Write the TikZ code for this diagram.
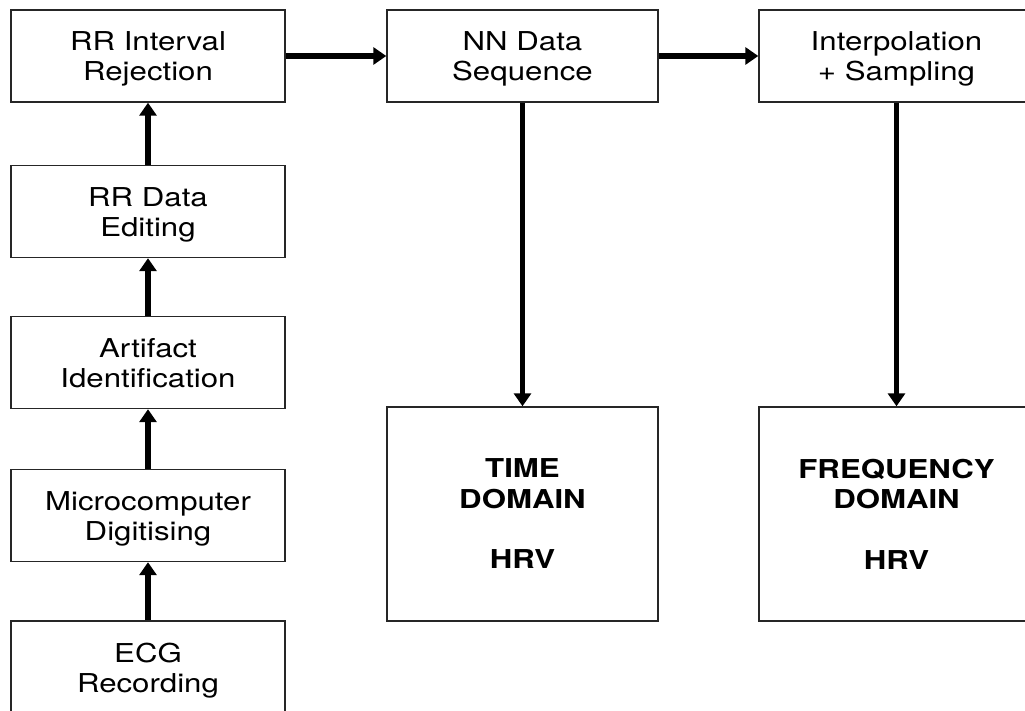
\documentclass[tikz,border=0pt]{standalone}
\usepackage{fontspec}
\setmainfont{TeX Gyre Heros}[FakeStretch=1.2]
\usetikzlibrary{arrows.meta}
\begin{document}
\begin{tikzpicture}[x=1pt,y=-1pt,
  basebox/.style={draw=black!85,line width=1.4pt,minimum width=274pt,
    align=center,inner sep=0pt},
  box/.style={basebox,minimum height=92pt,text height=50pt,text depth=0pt,font=\fontsize{26}{30}\selectfont},
  bigbox/.style={basebox,minimum height=214pt,font=\fontsize{26}{30.5}\selectfont\bfseries},
  flow/.style={line width=5.5pt,-{Triangle[length=13pt,width=17pt]}}]
\useasboundingbox (0,0) rectangle (1025,711);
\node[box] (rej) at (148,56) {RR Interval\\Rejection};
\node[box] (edit) at (148,211.5) {RR Data\\Editing};
\node[box] (art) at (148,362.5) {Artifact\\Identification};
\node[box] (dig) at (148,515.5) {Microcomputer\\Digitising};
\node[box] (ecg) at (148,667) {ECG\\Recording};
\node[box,minimum width=271pt] (nn) at (522.5,56) {NN Data\\Sequence};
\node[box,minimum width=275pt] (interp) at (896.5,56) {Interpolation\\+ Sampling};
\node[bigbox,minimum width=271pt] (time) at (522.5,514) {TIME\\DOMAIN\\[30pt]HRV};
\node[bigbox,minimum width=275pt] (freq) at (896.5,514) {FREQUENCY\\DOMAIN\\[30pt]HRV};
\draw[flow] (ecg.north) -- (dig.south);
\draw[flow] (dig.north) -- (art.south);
\draw[flow] (art.north) -- (edit.south);
\draw[flow] (edit.north) -- (rej.south);
\draw[flow] (rej.east) -- (nn.west);
\draw[flow] (nn.east) -- (interp.west);
\draw[flow] (nn.south) -- (time.north);
\draw[flow] (interp.south) -- (freq.north);
\end{tikzpicture}
\end{document}
